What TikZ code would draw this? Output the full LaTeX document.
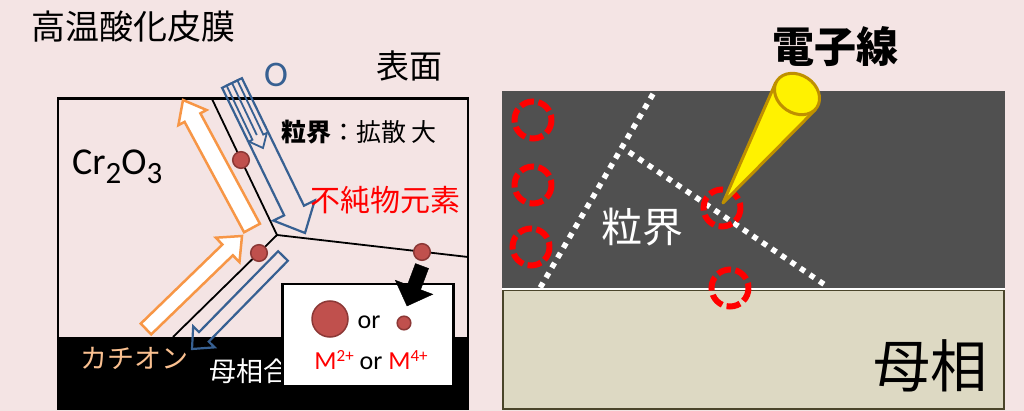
\documentclass[tikz,border=0pt]{standalone}
\usepackage{fontspec}
\setmainfont{Carlito}
\newfontfamily\jp{Noto Sans CJK JP}
\usetikzlibrary{calc}

\definecolor{bgpink}{RGB}{244,228,228}
\definecolor{oxblue}{RGB}{55,96,146}
\definecolor{catorange}{RGB}{247,150,70}
\definecolor{catlabel}{RGB}{250,192,144}
\definecolor{dotred}{RGB}{192,80,77}
\definecolor{dotrim}{RGB}{140,56,54}
\definecolor{oxgray}{RGB}{80,80,80}
\definecolor{basebeige}{RGB}{221,217,195}
\definecolor{baserim}{RGB}{74,69,42}
\definecolor{beamgold}{RGB}{191,144,0}

\newcommand{\pxsize}[1]{\fontsize{#1}{#1}\selectfont}
% block arrow: [style]{tail}{tip}{half shaft}{half head}{head length}
\newcommand{\blockarrow}[6][]{%
  \coordinate (neck) at ($(#3)!#6!(#2)$);
  \draw[#1] ($(#2)!#4!90:(#3)$) -- ($(neck)!#4!90:(#3)$) -- ($(neck)!#5!90:(#3)$) -- (#3)
    -- ($(neck)!#5!-90:(#3)$) -- ($(neck)!#4!-90:(#3)$) -- ($(#2)!#4!-90:(#3)$) -- cycle;
}

\tikzset{
  txt/.style={inner sep=0pt, font=\jp},
  impurity/.style={draw=dotrim, fill=dotred, line width=1.5pt},
  spot/.style={draw=red, line width=6pt, dash pattern=on 14pt off 4.5pt},
  gbdots/.style={draw=white, line width=5.5pt, dash pattern=on 5.5pt off 6pt},
  cation/.style={draw=catorange, fill=white, line width=2.5pt},
  oxygen/.style={draw=oxblue, line width=2.2pt},
}

\begin{document}
\begin{tikzpicture}[x=1pt,y=-1pt]
\fill[bgpink] (0,0) rectangle (1024,411);
\useasboundingbox (0,0) rectangle (1024,411);

%oxide film and base metal
\fill[black] (58,337) rectangle (468,409);
\draw[line width=2.5pt] (58,98.5) rectangle (468,409);

%grain boundaries
\coordinate (tj) at (277,235);
\coordinate (gbtop) at (212,99);
\coordinate (gbright) at (468,257);
\coordinate (gbbot) at (173,337);
\draw[line width=1.8pt] (gbtop) -- (tj) -- (gbright);
\draw[line width=1.8pt] (tj) -- (gbbot);

%cation flux
\coordinate (caA0) at (252,228); \coordinate (caA1) at (183,100);
\coordinate (caB0) at (146,329); \coordinate (caB1) at (242,236);
\blockarrow[cation]{caA0}{caA1}{9pt}{16pt}{20pt}
\blockarrow[cation]{caB0}{caB1}{7.5pt}{17pt}{20pt}

%oxygen flux
\coordinate (ox0) at (232,83); \coordinate (ox1) at (305,233); \coordinate (oxin) at (263,148);
\coordinate (oxC0) at (283,256); \coordinate (oxC1) at (192,349);
\blockarrow[oxygen]{ox0}{ox1}{11pt}{23pt}{25pt}
\blockarrow[oxygen, line width=1.8pt]{ox0}{oxin}{6pt}{10pt}{12pt}
\draw[oxygen, line width=1.8pt] (ox0) -- ($(ox0)!0.8!(oxin)$);
\blockarrow[oxygen]{oxC0}{oxC1}{6.8pt}{15pt}{17pt}

%impurities on the boundaries
\draw[impurity] (241,160) circle (8.3);
\draw[impurity] (259,253) circle (8.3);
\draw[impurity] (422,252) circle (8.3);

%labels
\node[txt, font=\jp\pxsize{34}] (film) at (133,27) {高温酸化皮膜};
\node[txt, font=\jp\pxsize{33}] (surf) at (409,66) {表面};
\node[inner sep=0pt, text=oxblue, font=\pxsize{36}] (oxy) at (276,75) {O};
\node[txt, font=\jp\pxsize{25}, anchor=west] (gbdiff) at (281,132) {{\bfseries 粒界}：拡散 大};
\node[inner sep=0pt, font=\pxsize{38}, anchor=base west] (chrom) at (72,175)
  {Cr\raisebox{-9pt}{\pxsize{31}2}O\raisebox{-9pt}{\pxsize{31}3}};
\node[txt, font=\jp\pxsize{30}, text=red] (impl) at (385,200) {不純物元素};
\node[txt, font=\jp\pxsize{27}, text=catlabel] (catl) at (134,358) {カチオン};
\node[txt, font=\jp\pxsize{27}, text=white, anchor=west] (alloy) at (209,371) {母相合金};

%legend
\node[draw, fill=white, line width=2.5pt, minimum width=171pt, minimum height=102pt,
  inner sep=0pt, anchor=north west] (legend) at (281,283) {};
\draw[impurity] (330,319) circle (18);
\draw[impurity] (404,323) circle (6.8);
\node[inner sep=0pt, font=\pxsize{26}] (or1) at (369,322) {or};
\node[inner sep=0pt, font=\pxsize{26}] (ions) at (371,360)
  {\textcolor{red}{M\raisebox{8pt}{\pxsize{17}2+}} or \textcolor{red}{M\raisebox{8pt}{\pxsize{17}4+}}};
\coordinate (bk0) at (422,266); \coordinate (bk1) at (407,306);
\blockarrow[fill=black]{bk0}{bk1}{7pt}{20pt}{20pt}

%grains seen under the beam
\fill[oxgray] (502,91) rectangle (1005,289);
\filldraw[fill=basebeige, draw=baserim, line width=2pt] (503,290) rectangle (1004,409);
\draw[white, line width=2pt] (502,289.5) -- (1005,289.5);
\coordinate (gb1a) at (653,94); \coordinate (gb1b) at (540,288);
\coordinate (gbj) at (629,152); \coordinate (gb2b) at (828,287);
\draw[gbdots] (gb1a) -- (gb1b);
\draw[gbdots] (gbj) -- (gb2b);

%analysis spots
\foreach \p in {(533,120),(533,185),(531,247),(730,288),(722,208)}
  \draw[spot] \p circle (18.5);

%electron beam
\coordinate (beamtip) at (723,203);
\coordinate (beamend) at (797,94);
\filldraw[fill=yellow, draw=beamgold, line width=3pt, line join=round]
  (775.6,82.8) -- (beamtip) -- (815.4,109.6) -- cycle;
\filldraw[fill=yellow, draw=beamgold, line width=3pt, rotate around={-34:(beamend)}]
  (beamend) ellipse [x radius=24, y radius=19];

\node[txt, font=\jp\bfseries\pxsize{42}] (beam) at (835,47) {電子線};
\node[txt, font=\jp\pxsize{41}, text=white] (gbr) at (642,227) {粒界};
\node[txt, font=\jp\pxsize{57}] (base) at (930,366) {母相};
\end{tikzpicture}
\end{document}
